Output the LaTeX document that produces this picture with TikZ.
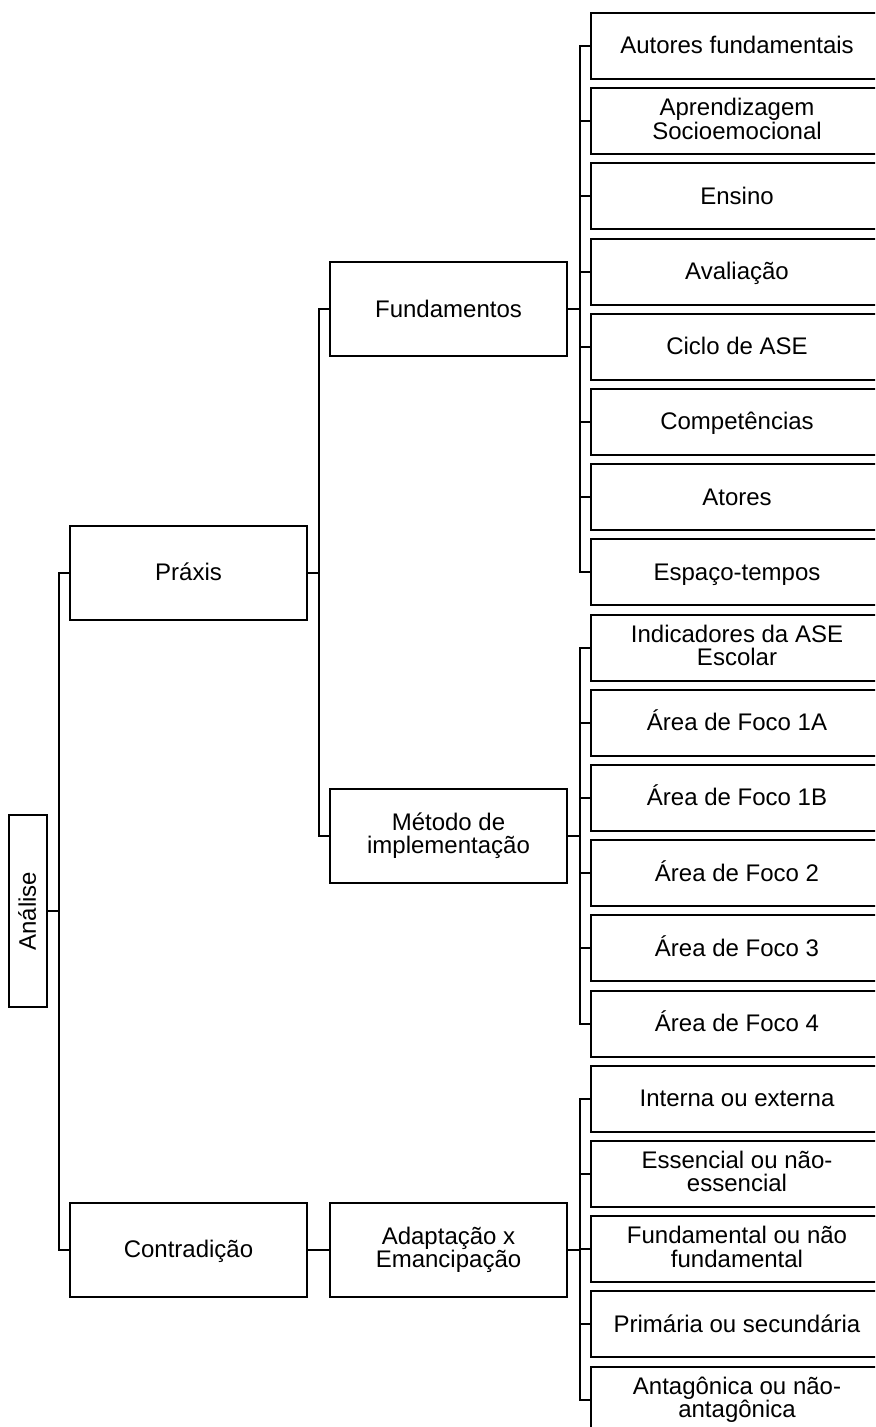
\documentclass[tikz,border=0pt]{standalone}
\usepackage{fontspec}
\setmainfont{Liberation Sans}
\newcommand{\myph}{\vphantom{Ág}}
\begin{document}
\begin{tikzpicture}[x=0.5pt,y=-0.5pt,
  every node/.style={font={\fontsize{12}{11.6}\selectfont}, align=center, inner sep=0pt,
    execute at begin node=\myph, execute at end node=\myph},
  box/.style={draw=black, line width=1pt, fill=white},
  leaf/.style={box, minimum width=146pt, minimum height=33pt},
  mid/.style={box, minimum width=118.5pt, minimum height=47pt},
  conn/.style={draw=black, line width=1pt}]
\useasboundingbox (0,0) rectangle (875,1427);
\clip (0,0) rectangle (875,1427);

\node[box, rotate=90, minimum width=96pt, minimum height=19pt] (an) at (28,911) {Análise};
\node[mid] (px) at (188.5,573) {Práxis};
\node[mid] (ct) at (188.5,1250) {Contradição};
\node[mid] (fu) at (448.5,309.5) {Fundamentos};
\node[mid] (me) at (448.5,835.5) {Método de\\implementação};
\node[mid] (ad) at (448.5,1250) {Adaptação x\\Emancipação};

\node[leaf] (l0)  at (737,46.0)   {Autores fundamentais};
\node[leaf] (l1)  at (737,121.2)  {Aprendizagem\\Socioemocional};
\node[leaf] (l2)  at (737,196.4)  {Ensino};
\node[leaf] (l3)  at (737,271.6)  {Avaliação};
\node[leaf] (l4)  at (737,346.8)  {Ciclo de ASE};
\node[leaf] (l5)  at (737,422.0)  {Competências};
\node[leaf] (l6)  at (737,497.2)  {Atores};
\node[leaf] (l7)  at (737,572.4)  {Espaço-tempos};
\node[leaf] (l8)  at (737,647.6)  {Indicadores da ASE\\Escolar};
\node[leaf] (l9)  at (737,722.8)  {Área de Foco 1A};
\node[leaf] (l10) at (737,798.0)  {Área de Foco 1B};
\node[leaf] (l11) at (737,873.2)  {Área de Foco 2};
\node[leaf] (l12) at (737,948.4)  {Área de Foco 3};
\node[leaf] (l13) at (737,1023.6) {Área de Foco 4};
\node[leaf] (l14) at (737,1098.8) {Interna ou externa};
\node[leaf] (l15) at (737,1174.0) {Essencial ou não-\\essencial};
\node[leaf] (l16) at (737,1249.2) {Fundamental ou não\\fundamental};
\node[leaf] (l17) at (737,1324.4) {Primária ou secundária};
\node[leaf] (l18) at (737,1399.6) {Antagônica ou não-\\antagônica};

% level 1
\draw[conn] (an.south) -- ++(11,0) |- (px.west);
\draw[conn] (an.south) -- ++(11,0) |- (ct.west);
% level 2
\draw[conn] (px.east) -- ++(11,0) |- (fu.west);
\draw[conn] (px.east) -- ++(11,0) |- (me.west);
\draw[conn] (ct.east) -- (ad.west);
% level 3
\foreach \l in {l0,l1,l2,l3,l4,l5,l6,l7}
  \draw[conn] (fu.east) -- ++(12,0) |- (\l.west);
\foreach \l in {l8,l9,l10,l11,l12,l13}
  \draw[conn] (me.east) -- ++(12,0) |- (\l.west);
\foreach \l in {l14,l15,l16,l17,l18}
  \draw[conn] (ad.east) -- ++(12,0) |- (\l.west);
\end{tikzpicture}
\end{document}
